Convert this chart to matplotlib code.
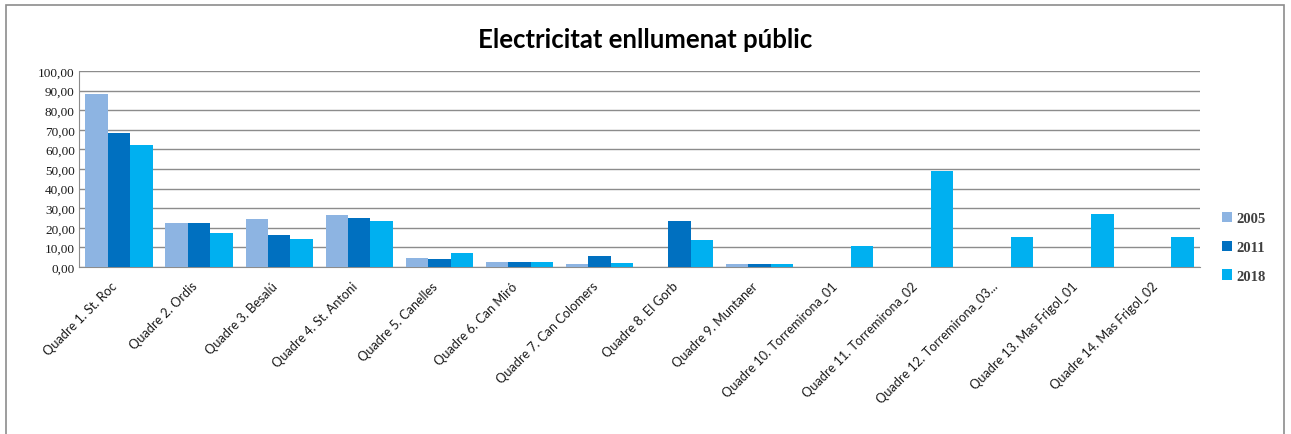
import matplotlib
matplotlib.use("Agg")
import matplotlib.pyplot as plt
import matplotlib.patches as mpatches
import matplotlib.transforms as mtransforms
import numpy as np

categories = [
    "Quadre 1. St. Roc", "Quadre 2. Ordis", "Quadre 3. Besalú", "Quadre 4. St. Antoni",
    "Quadre 5. Canelles", "Quadre 6. Can Miró", "Quadre 7. Can Colomers", "Quadre 8. El Gorb",
    "Quadre 9. Muntaner", "Quadre 10. Torremirona_01", "Quadre 11. Torremirona_02",
    "Quadre 12. Torremirona_03...", "Quadre 13. Mas Frigol_01", "Quadre 14. Mas Frigol_02",
]
series_names = ["2005", "2011", "2018"]
v2005 = [88.2, 22.7, 24.5, 26.4, 4.4, 2.5, 1.5, 0.0, 1.5, 0.0, 0.0, 0.0, 0.0, 0.0]
v2011 = [68.4, 22.2, 16.1, 24.9, 3.9, 2.5, 5.4, 23.5, 1.5, 0.0, 0.0, 0.0, 0.0, 0.0]
v2018 = [62.3, 17.1, 14.2, 23.5, 7.3, 2.5, 2.0, 13.7, 1.5, 10.8, 49.2, 15.1, 27.2, 15.1]
yticks = [0, 10, 20, 30, 40, 50, 60, 70, 80, 90, 100]
title = "Electricitat enllumenat públic"

colors = ["#8DB4E2", "#0070C0", "#00B0F0"]

fig = plt.figure(figsize=(12.91, 4.35), dpi=100)
# outer chart frame
fig.patches.append(mpatches.Rectangle((6/1291, -0.05), (1284-6)/1291, 1 - 6/435 + 0.05,
                                      transform=fig.transFigure, fill=False,
                                      edgecolor="#8c8c8c", linewidth=1.2))

ax = fig.add_axes([79/1291, 1 - 268/435, (1200-79)/1291, (268-72)/435])
x = np.arange(len(categories))
w = 0.28
for i, (vals, name) in enumerate(zip([v2005, v2011, v2018], series_names)):
    ax.bar(x + (i - 1) * w, vals, width=w, color=colors[i], label=name, zorder=3)

ax.set_xlim(-0.5, len(categories) - 0.5)
ax.set_ylim(0, 100)
ax.set_yticks(yticks)
ax.set_yticklabels([f"{v:.2f}".replace(".", ",") for v in yticks],
                   family="Liberation Serif", fontsize=9.5, color="#1a1a1a")
ax.yaxis.grid(True, color="#8c8c8c", linewidth=1, zorder=0)
ax.tick_params(axis="y", length=0, pad=3)
ax.tick_params(axis="x", length=0, pad=9)
ax.set_xticks(x)
ax.set_xticklabels(categories, rotation=45, ha="right", rotation_mode="anchor",
                   family="Lato", fontsize=9.2, color="#1a1a1a")
offset = mtransforms.ScaledTranslation(-8/100, 0, fig.dpi_scale_trans)
for lab in ax.get_xticklabels():
    lab.set_transform(lab.get_transform() + offset)
for s in ["top", "right"]:
    ax.spines[s].set_visible(False)
ax.spines["left"].set_color("#8c8c8c")
ax.spines["bottom"].set_color("#8c8c8c")

fig.text(645/1291, 1 - 40/435, title, ha="center", va="center",
         family="Lato", fontweight="bold", fontsize=18.5)

leg = ax.legend(loc="center left", bbox_to_anchor=(1.008, 0.1), frameon=False,
                prop={"family": "Liberation Serif", "size": 10.5, "weight": "bold"},
                handlelength=0.7, handleheight=0.7, handletextpad=0.3, labelspacing=1.05)
for t in leg.get_texts():
    t.set_color("#404040")

fig.savefig("out.png", dpi=100)
